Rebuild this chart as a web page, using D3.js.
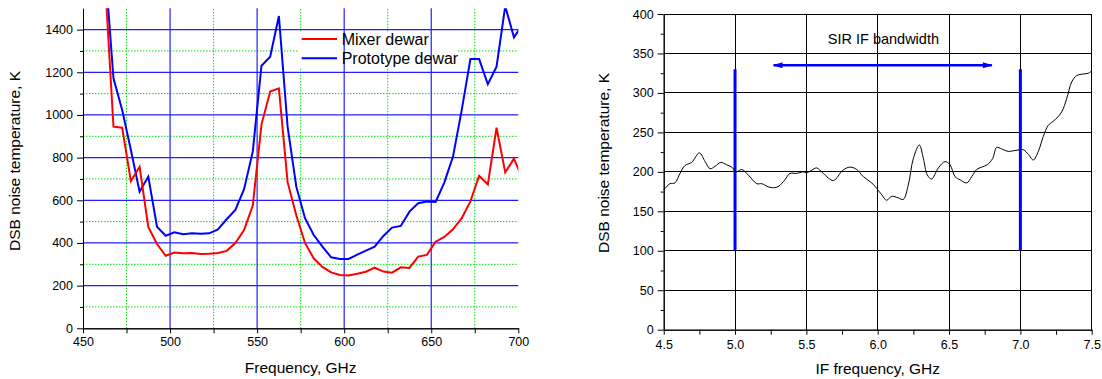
<!DOCTYPE html>
<html>
<head>
<meta charset="utf-8">
<script src="https://cdn.jsdelivr.net/npm/d3@7"></script>
<style>
  body { margin: 0; background: #fff; }
  text { font-family: "Liberation Sans", Arial, sans-serif; fill: #000; }
</style>
</head>
<body>
<svg id="chart" width="1102" height="379"></svg>
<script>
// left panel: RF noise temperature of the two dewars
var rfFreq = [462.5, 467.5, 472.5, 477.5, 482.5, 487.5, 492.5, 497.5, 502.5, 507.5,
  512.5, 517.5, 522.5, 527.5, 532.5, 537.5, 542.5, 547.5, 552.5, 557.5,
  562.5, 567.5, 572.5, 577.5, 582.5, 587.5, 592.5, 597.5, 602.5, 607.5,
  612.5, 617.5, 622.5, 627.5, 632.5, 637.5, 642.5, 647.5, 652.5, 657.5,
  662.5, 667.5, 672.5, 677.5, 682.5, 687.5, 692.5, 697.5, 702.5]
var mixerDewar = [1650, 945, 940, 690, 757, 475, 395, 340, 355, 352,
  353, 348, 350, 353, 363, 400, 460, 575, 955, 1110,
  1125, 685, 530, 400, 328, 288, 262, 250, 248, 256,
  265, 284, 266, 261, 286, 283, 336, 344, 406, 428,
  464, 516, 595, 715, 675, 940, 731, 795, 700]
var prototypeDewar = [1718, 1172, 1023, 836, 640, 711, 476, 434, 450, 441,
  445, 443, 445, 464, 511, 555, 652, 828, 1231, 1273,
  1464, 945, 664, 516, 437, 383, 333, 325, 325, 345,
  364, 383, 433, 472, 480, 547, 586, 594, 592, 683,
  805, 1023, 1262, 1262, 1144, 1226, 1510, 1364, 1424]
var rfTicks = [450, 500, 550, 600, 650, 700]
var rfMinorTicks = [475, 525, 575, 625, 675]
var tempTicks = [0, 200, 400, 600, 800, 1000, 1200, 1400]
var tempMinorTicks = [100, 300, 500, 700, 900, 1100, 1300]
var seriesNames = ["Mixer dewar", "Prototype dewar"]

// right panel: IF noise temperature
var ifFreq = [4.50, 4.544, 4.579, 4.614, 4.649, 4.696, 4.75, 4.79, 4.825, 4.86,
  4.90, 4.94, 4.977, 5.007, 5.047, 5.093, 5.152, 5.187, 5.233, 5.28,
  5.308, 5.35, 5.385, 5.432, 5.474, 5.502, 5.537, 5.572, 5.619, 5.689,
  5.755, 5.806, 5.853, 5.899, 5.958, 5.993, 6.028, 6.063, 6.098, 6.145,
  6.179, 6.214, 6.25, 6.292, 6.32, 6.348, 6.378, 6.425, 6.472, 6.507,
  6.542, 6.577, 6.624, 6.659, 6.694, 6.729, 6.768, 6.806, 6.834, 6.869,
  6.915, 6.962, 7.021, 7.056, 7.091, 7.126, 7.161, 7.196, 7.243, 7.29,
  7.325, 7.36, 7.395, 7.442, 7.477, 7.50]
var ifNoise = [177, 185, 186, 198, 208, 212, 224, 213, 204, 207,
  212, 209, 206, 200, 203, 196, 185, 185, 181, 180,
  182, 190, 198, 198, 200, 199, 202, 205, 198, 189,
  202, 206, 203, 194, 186, 179, 171, 164, 169, 167,
  165, 183, 217, 234, 217, 196, 191, 205, 213, 209,
  194, 190, 186, 194, 203, 206, 209, 217, 231, 229,
  226, 227, 228, 222, 215, 226, 245, 259, 266, 276,
  293, 314, 322, 324, 325, 328]
var ifTicks = [4.5, 5.0, 5.5, 6.0, 6.5, 7.0, 7.5]
var ifMinorTicks = [4.75, 5.25, 5.75, 6.25, 6.75, 7.25]
var ifTempTicks = [0, 50, 100, 150, 200, 250, 300, 350, 400]
var ifTempMinorTicks = [25, 75, 125, 175, 225, 275, 325, 375]
var bandEdges = [5.0, 7.0]
var bandLow = 100, bandHigh = 330
var arrowSpan = [5.27, 6.8], arrowLevel = 335

var svg = d3.select('#chart')

function line(g, x1, y1, x2, y2) {
  return g.append('line').attr('x1', x1).attr('y1', y1).attr('x2', x2).attr('y2', y2)
}

function styleAxis(g) {
  g.selectAll('path, line').attr('stroke', '#000').attr('stroke-width', 1)
  g.selectAll('text').style('font-size', '12.5px')
}

// ---------- left chart ----------
var xL = d3.scaleLinear().domain([450, 700]).range([83, 518.3])
var yL = d3.scaleLinear().domain([0, 1500]).range([328.3, 8.3])

var left = svg.append('g')
left.append('clipPath').attr('id', 'clipL').append('rect')
  .attr('x', xL(450)).attr('y', yL(1500))
  .attr('width', xL(700) - xL(450)).attr('height', yL(0) - yL(1500))

var greenGrid = left.append('g').attr('stroke', '#00e000').attr('stroke-width', 1)
  .attr('stroke-dasharray', '1.5,1.5')
rfMinorTicks.forEach(function(v) { line(greenGrid, xL(v), yL(0), xL(v), yL(1500)) })
tempMinorTicks.forEach(function(v) { line(greenGrid, xL(450), yL(v), xL(700), yL(v)) })

// legend background hides the minor grid behind the labels
left.append('rect').attr('x', 299).attr('y', 32).attr('width', 158).attr('height', 36).attr('fill', '#fff')

var blueGrid = left.append('g').attr('stroke', '#2020ff').attr('stroke-width', 1.2)
rfTicks.slice(1, -1).forEach(function(v) { line(blueGrid, xL(v), yL(0), xL(v), yL(1500)) })
tempTicks.slice(1).forEach(function(v) { line(blueGrid, xL(450), yL(v), xL(700), yL(v)) })

var lineL = d3.line().x(function(d) { return xL(d[0]) }).y(function(d) { return yL(d[1]) })
var plotL = left.append('g').attr('clip-path', 'url(#clipL)')
plotL.append('path').datum(d3.zip(rfFreq, prototypeDewar))
  .attr('d', lineL).attr('fill', 'none').attr('stroke', '#0000ff').attr('stroke-width', 2)
plotL.append('path').datum(d3.zip(rfFreq, mixerDewar))
  .attr('d', lineL).attr('fill', 'none').attr('stroke', '#ff0000').attr('stroke-width', 2)

left.append('g').attr('transform', 'translate(0,' + yL(0) + ')')
  .call(d3.axisBottom(xL).tickValues(rfTicks).tickSize(5).tickSizeOuter(0).tickPadding(4))
  .call(styleAxis)
left.append('g').attr('transform', 'translate(0,' + yL(0) + ')')
  .call(d3.axisBottom(xL).tickValues(rfMinorTicks).tickSize(5).tickFormat('').tickSizeOuter(0))
  .call(styleAxis)
left.append('g').attr('transform', 'translate(' + xL(450) + ',0)')
  .call(d3.axisLeft(yL).tickValues(tempTicks).tickSize(6).tickSizeOuter(0).tickPadding(4)
    .tickFormat(d3.format('d')))
  .call(styleAxis)
left.append('g').attr('transform', 'translate(' + xL(450) + ',0)')
  .call(d3.axisLeft(yL).tickValues(tempMinorTicks).tickSize(3).tickFormat('').tickSizeOuter(0))
  .call(styleAxis)

left.append('text').attr('x', (xL(450) + xL(700)) / 2).attr('y', 373)
  .attr('text-anchor', 'middle').style('font-size', '15.5px').text('Frequency, GHz')
left.append('text').attr('transform', 'translate(20,161) rotate(-90)')
  .attr('text-anchor', 'middle').style('font-size', '15.5px').text('DSB noise temperature, K')

var legend = left.append('g')
;[['#ff0000', 39], ['#0000ff', 58.3]].forEach(function(s, i) {
  line(legend, 301.7, s[1], 337, s[1]).attr('stroke', s[0]).attr('stroke-width', 2)
  legend.append('text').attr('x', 341.7).attr('y', s[1] + 5.5)
    .style('font-size', '16px').text(seriesNames[i])
})

// ---------- right chart ----------
var xR = d3.scaleLinear().domain([4.5, 7.5]).range([663.7, 1091.7])
var yR = d3.scaleLinear().domain([0, 400]).range([329.7, 14])

var right = svg.append('g')
var gridR = right.append('g').attr('stroke', '#000').attr('stroke-width', 1).attr('shape-rendering', 'crispEdges')
ifTicks.slice(1).forEach(function(v) { line(gridR, xR(v), yR(0), xR(v), yR(400)) })
ifTempTicks.slice(1).forEach(function(v) { line(gridR, xR(4.5), yR(v), xR(7.5), yR(v)) })

bandEdges.forEach(function(v) {
  line(right, xR(v), yR(bandLow), xR(v), yR(bandHigh)).attr('stroke', '#0000ff').attr('stroke-width', 3)
})

var defs = svg.append('defs')
defs.append('marker').attr('id', 'head').attr('viewBox', '0 0 10 6')
  .attr('refX', 9).attr('refY', 3).attr('markerWidth', 12).attr('markerHeight', 6)
  .attr('markerUnits', 'userSpaceOnUse').attr('orient', 'auto-start-reverse')
  .append('path').attr('d', 'M0,0L10,3L0,6Z').attr('fill', '#0000ff')
line(right, xR(arrowSpan[0]), yR(arrowLevel), xR(arrowSpan[1]), yR(arrowLevel))
  .attr('stroke', '#0000ff').attr('stroke-width', 2.5)
  .attr('marker-start', 'url(#head)').attr('marker-end', 'url(#head)')
right.append('text').attr('x', xR(6.04)).attr('y', 44).attr('text-anchor', 'middle')
  .style('font-size', '14.5px').text('SIR IF bandwidth')

var lineR = d3.line().curve(d3.curveCatmullRom.alpha(0.5))
  .x(function(d) { return xR(d[0]) }).y(function(d) { return yR(d[1]) })
right.append('path').datum(d3.zip(ifFreq, ifNoise))
  .attr('d', lineR).attr('fill', 'none').attr('stroke', '#000').attr('stroke-width', 1)

right.append('g').attr('transform', 'translate(0,' + yR(0) + ')')
  .call(d3.axisBottom(xR).tickValues(ifTicks).tickSize(5).tickSizeOuter(0).tickPadding(5)
    .tickFormat(d3.format('.1f')))
  .call(styleAxis)
right.append('g').attr('transform', 'translate(0,' + yR(0) + ')')
  .call(d3.axisBottom(xR).tickValues(ifMinorTicks).tickSize(5).tickFormat('').tickSizeOuter(0))
  .call(styleAxis)
right.append('g').attr('transform', 'translate(' + xR(4.5) + ',0)')
  .call(d3.axisLeft(yR).tickValues(ifTempTicks).tickSize(6).tickSizeOuter(0).tickPadding(4))
  .call(styleAxis)
right.append('g').attr('transform', 'translate(' + xR(4.5) + ',0)')
  .call(d3.axisLeft(yR).tickValues(ifTempMinorTicks).tickSize(3).tickFormat('').tickSizeOuter(0))
  .call(styleAxis)

right.append('text').attr('x', (xR(4.5) + xR(7.5)) / 2).attr('y', 374)
  .attr('text-anchor', 'middle').style('font-size', '15.5px').text('IF frequency, GHz')
right.append('text').attr('transform', 'translate(609,163) rotate(-90)')
  .attr('text-anchor', 'middle').style('font-size', '15.5px').text('DSB noise temperature, K')
</script>
</body>
</html>
